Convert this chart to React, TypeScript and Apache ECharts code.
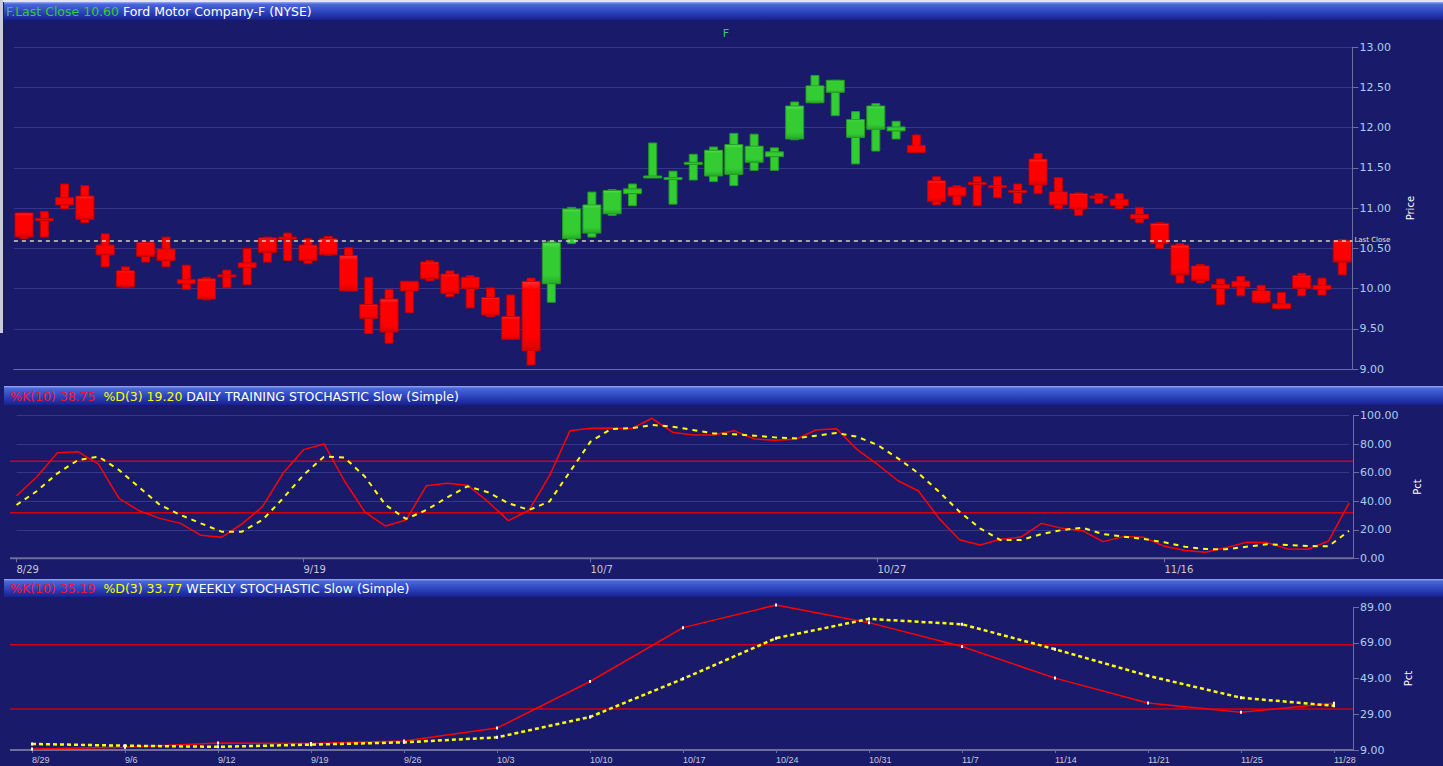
import React, { useEffect, useRef } from "react";
import * as echarts from "echarts";

// ---------- DATA ----------
const dailyDates = [
  "8/29", "8/30", "8/31", "9/1", "9/2", "9/6", "9/7", "9/8", "9/9", "9/12",
  "9/13", "9/14", "9/15", "9/16", "9/19", "9/20", "9/21", "9/22", "9/23", "9/26",
  "9/27", "9/28", "9/29", "9/30", "10/3", "10/4", "10/5", "10/6", "10/7", "10/10",
  "10/11", "10/12", "10/13", "10/14", "10/17", "10/18", "10/19", "10/20", "10/21", "10/24",
  "10/25", "10/26", "10/27", "10/28", "10/31", "11/1", "11/2", "11/3", "11/4", "11/7",
  "11/8", "11/9", "11/10", "11/11", "11/14", "11/15", "11/16", "11/17", "11/18", "11/21",
  "11/22", "11/23", "11/25", "11/28", "11/29", "11/30",
];
const dailyLabelDates = ["8/29", "9/19", "10/7", "10/27", "11/16"];

const bodyTop = [
  10.94, 10.87, 11.13, 11.15, 10.54, 10.22, 10.57, 10.49, 10.11, 10.12,
  10.17, 10.32, 10.63, 10.64, 10.54, 10.62, 10.41, 9.8, 9.87, 10.09,
  10.33, 10.18, 10.14, 9.89, 9.65, 10.09, 10.57, 10.99, 11.04, 11.22,
  11.24, 11.4, 11.38, 11.57, 11.72, 11.79, 11.77, 11.7, 12.27, 12.52,
  12.59, 12.1, 12.27, 12.01, 11.78, 11.34, 11.26, 11.32, 11.28, 11.22,
  11.61, 11.2, 11.18, 11.15, 11.11, 10.92, 10.81, 10.54, 10.28, 10.05,
  10.09, 9.97, 9.81, 10.16, 10.04, 10.6,
];
const bodyBottom = [
  10.64, 10.87, 11.04, 10.86, 10.42, 10.02, 10.4, 10.35, 10.06, 9.87,
  10.17, 10.26, 10.45, 10.64, 10.35, 10.42, 9.97, 9.63, 9.46, 9.97,
  10.12, 9.94, 10.0, 9.67, 9.37, 9.23, 10.06, 10.62, 10.69, 10.93,
  11.18, 11.4, 11.36, 11.57, 11.4, 11.42, 11.57, 11.64, 11.86, 12.31,
  12.44, 11.88, 11.98, 11.96, 11.69, 11.08, 11.15, 11.32, 11.28, 11.22,
  11.29, 11.04, 10.99, 11.15, 11.03, 10.87, 10.56, 10.17, 10.1, 10.0,
  10.02, 9.83, 9.75, 10.0, 9.99, 10.33,
];
const highs = [
  10.94, 10.96, 11.3, 11.28, 10.68, 10.27, 10.58, 10.64, 10.29, 10.14,
  10.23, 10.5, 10.64, 10.69, 10.62, 10.65, 10.51, 10.14, 9.99, 10.09,
  10.35, 10.22, 10.16, 10.01, 9.92, 10.13, 10.59, 11.01, 11.2, 11.23,
  11.3, 11.81, 11.46, 11.67, 11.76, 11.93, 11.92, 11.75, 12.32, 12.65,
  12.59, 12.2, 12.3, 12.08, 11.91, 11.39, 11.28, 11.39, 11.39, 11.3,
  11.68, 11.38, 11.19, 11.18, 11.18, 11.01, 10.82, 10.56, 10.3, 10.12,
  10.15, 10.04, 9.95, 10.19, 10.13, 10.61,
];
const lows = [
  10.62, 10.64, 10.99, 10.82, 10.27, 10.01, 10.33, 10.27, 9.99, 9.86,
  10.01, 10.05, 10.33, 10.35, 10.31, 10.41, 9.97, 9.44, 9.32, 9.7,
  10.1, 9.9, 9.76, 9.65, 9.37, 9.05, 9.83, 10.56, 10.64, 10.91,
  11.03, 11.38, 11.05, 11.35, 11.33, 11.28, 11.47, 11.47, 11.85, 12.31,
  12.15, 11.55, 11.71, 11.86, 11.69, 11.04, 11.04, 11.03, 11.13, 11.06,
  11.18, 10.99, 10.91, 11.06, 10.99, 10.82, 10.5, 10.07, 10.07, 9.8,
  9.91, 9.83, 9.75, 9.91, 9.92, 10.17,
];
// trend paint: G = green bar, R = red bar
const barTrend = [
  "R", "R", "R", "R", "R", "R", "R", "R", "R", "R",
  "R", "R", "R", "R", "R", "R", "R", "R", "R", "R",
  "R", "R", "R", "R", "R", "R", "G", "G", "G", "G",
  "G", "G", "G", "G", "G", "G", "G", "G", "G", "G",
  "G", "G", "G", "G", "R", "R", "R", "R", "R", "R",
  "R", "R", "R", "R", "R", "R", "R", "R", "R", "R",
  "R", "R", "R", "R", "R", "R",
];
const lastClose = 10.6;

const dailyK = [
  43.9, 57.2, 74.1, 74.8, 66.1, 42.1, 33.2, 28.0, 24.5, 16.1,
  14.7, 24.1, 36.2, 59.6, 76.2, 80.2, 54.2, 32.3, 22.6, 26.9,
  50.9, 52.6, 51.2, 39.7, 26.4, 33.7, 57.9, 89.5, 91.2, 91.4,
  90.9, 98.2, 88.4, 86.5, 86.5, 89.5, 83.7, 82.7, 83.4, 90.0,
  90.9, 76.4, 65.9, 54.4, 47.2, 28.0, 13.0, 9.3, 13.3, 14.9,
  24.5, 21.0, 19.4, 11.7, 15.2, 14.7, 8.4, 5.4, 4.2, 7.5,
  11.2, 11.0, 6.5, 6.3, 12.1, 38.75,
];
const dailyD = [
  37.4, 47.2, 59.6, 68.9, 71.3, 61.9, 49.5, 37.4, 30.4, 24.5,
  18.7, 18.7, 26.9, 42.1, 58.4, 71.3, 70.6, 57.2, 37.4, 27.6,
  33.9, 42.6, 50.5, 46.3, 38.6, 33.9, 39.8, 60.8, 81.8, 90.7,
  91.2, 93.5, 92.3, 90.0, 87.6, 87.0, 86.0, 84.8, 84.1, 86.0,
  87.9, 85.3, 79.5, 70.1, 59.6, 46.7, 32.7, 21.0, 12.8, 12.8,
  17.0, 19.8, 21.5, 17.0, 15.2, 13.5, 11.2, 8.1, 6.5, 6.3,
  8.1, 9.8, 9.3, 8.6, 8.4, 19.2,
];

const weeklyDates = [
  "8/29", "9/6", "9/12", "9/19", "9/26", "10/3", "10/10", "10/17",
  "10/24", "10/31", "11/7", "11/14", "11/21", "11/25", "11/28",
];
const weeklyK = [9.6, 10.5, 12.9, 12.7, 14.0, 21.3, 47.4, 77.6, 90.3, 80.4, 67.0, 49.3, 35.3, 30.1, 35.19];
const weeklyD = [12.4, 11.4, 10.8, 12.0, 13.3, 16.1, 27.5, 48.9, 71.7, 82.5, 79.5, 65.5, 50.6, 38.3, 33.77];

const stochBands = [68, 32];
const weeklyBase = 9; // weekly axis runs 9 .. 89

// ---------- STYLE ----------
const BG = "#1A1A6B";
const GRIDLINE = "#36368A";
const AXIS = "#6E6E9E";
const YLABEL = "#A8D0EA";
const XLABEL = "#C8C8D8";
const RED = "#FF0000";
const RED_EDGE = "#C40000";
const GREEN = "#33CC33";
const GREEN_EDGE = "#229A22";
const BAND = "#D00010";
const FONT = "DejaVu Sans";
const HEAD_FONT = "12.5px " + FONT;
const PANEL_LEFT = 10;
const PANEL_RIGHT = 1353;

function headerBar(y: number, h: number) {
  return {
    type: "rect",
    shape: { x: 4, y, width: 1439, height: h },
    style: {
      fill: new echarts.graphic.LinearGradient(0, 0, 0, 1, [
        { offset: 0, color: "#9AAEF4" },
        { offset: 0.12, color: "#4A68DA" },
        { offset: 0.55, color: "#2C44BC" },
        { offset: 1, color: "#172092" },
      ]),
    },
    silent: true,
  };
}

function bodyFill(up: boolean) {
  return up
    ? new echarts.graphic.LinearGradient(0, 0, 0, 1, [
        { offset: 0, color: "#55E055" },
        { offset: 0.12, color: "#33CC33" },
        { offset: 0.8, color: "#33CC33" },
        { offset: 1, color: "#26AA26" },
      ])
    : new echarts.graphic.LinearGradient(0, 0, 0, 1, [
        { offset: 0, color: "#FF3030" },
        { offset: 0.12, color: "#FF0000" },
        { offset: 0.8, color: "#FF0000" },
        { offset: 1, color: "#D80000" },
      ]);
}

export default function App() {
  const ref = useRef<HTMLDivElement>(null);

  useEffect(() => {
    if (!ref.current) return;
    const chart = echarts.init(ref.current, null, { renderer: "svg" });

    const candleData = bodyTop.map((t, i) => [
      i, t, bodyBottom[i], highs[i], lows[i], barTrend[i] === "G" ? 1 : 0,
    ]);

    const yLabel = {
      color: YLABEL,
      fontSize: 11,
      fontFamily: FONT,
      margin: 7,
    };

    const baseGraphic: any[] = [
      { type: "rect", shape: { x: 0, y: 0, width: 1443, height: 2 }, style: { fill: "#E4E6EE" }, silent: true },
      { type: "rect", shape: { x: 0, y: 0, width: 3, height: 333 }, style: { fill: "#C8CCD8" }, silent: true },
      headerBar(2, 18),
      headerBar(386, 19),
      headerBar(579, 18),
      {
        type: "text",
        x: 6,
        y: 11,
        style: {
          text: "{g|F.Last Close " + lastClose.toFixed(2) + "} Ford Motor Company-F (NYSE)",
          fill: "#FFFFFF",
          font: HEAD_FONT,
          verticalAlign: "middle",
          rich: { g: { fill: "#33CC33", font: HEAD_FONT } },
        },
        silent: true,
      },
      {
        type: "text",
        x: 10,
        y: 396,
        style: {
          text:
            "{k|%K(10) " + dailyK[dailyK.length - 1].toFixed(2) + "}  {d|%D(3) " +
            dailyD[dailyD.length - 1].toFixed(2) + "} DAILY TRAINING STOCHASTIC Slow (Simple)",
          fill: "#FFFFFF",
          font: HEAD_FONT,
          verticalAlign: "middle",
          rich: {
            k: { fill: "#FF1030", font: HEAD_FONT },
            d: { fill: "#FFFF00", font: HEAD_FONT },
          },
        },
        silent: true,
      },
      {
        type: "text",
        x: 10,
        y: 588,
        style: {
          text:
            "{k|%K(10) " + weeklyK[weeklyK.length - 1].toFixed(2) + "}  {d|%D(3) " +
            weeklyD[weeklyD.length - 1].toFixed(2) + "} WEEKLY STOCHASTIC Slow (Simple)",
          fill: "#FFFFFF",
          font: HEAD_FONT,
          verticalAlign: "middle",
          rich: {
            k: { fill: "#FF1030", font: HEAD_FONT },
            d: { fill: "#FFFF00", font: HEAD_FONT },
          },
        },
        silent: true,
      },
      {
        type: "text",
        x: 726,
        y: 33,
        style: {
          text: "F",
          fill: "#33CC66",
          font: "11px " + FONT,
          align: "center",
          verticalAlign: "middle",
        },
        silent: true,
      },
    ];

    const option: any = {
      animation: false,
      backgroundColor: BG,
      grid: [
        { left: 13.9, top: 47.3, width: 1338.5, height: 321.7 },
        { left: 16.5, top: 415.7, width: 1332.5, height: 142.6 },
        { left: 32, top: 607.3, width: 1302, height: 142.7 },
      ],
      xAxis: [
        {
          gridIndex: 0,
          type: "category",
          data: dailyDates,
          boundaryGap: true,
          axisLine: { lineStyle: { color: AXIS, width: 1 } },
          axisTick: { show: false },
          axisLabel: { show: false },
          splitLine: { show: false },
        },
        {
          gridIndex: 1,
          type: "category",
          data: dailyDates,
          boundaryGap: false,
          axisLine: { show: false },
          axisTick: {
            show: true,
            length: 4,
            lineStyle: { color: AXIS },
            interval: (_i: number, v: string) => dailyLabelDates.includes(v),
          },
          axisLabel: {
            color: XLABEL,
            fontSize: 10,
            fontFamily: FONT,
            align: "left",
            margin: 6,
            interval: (_i: number, v: string) => dailyLabelDates.includes(v),
          },
          splitLine: { show: false },
        },
        {
          gridIndex: 2,
          type: "category",
          data: weeklyDates,
          boundaryGap: false,
          axisLine: { show: false },
          axisTick: { show: true, length: 3, interval: 0, lineStyle: { color: AXIS } },
          axisLabel: {
            color: XLABEL,
            fontSize: 9,
            fontFamily: "Liberation Sans",
            align: "left",
            margin: 5,
            interval: 0,
          },
          splitLine: { show: false },
        },
      ],
      yAxis: [
        {
          gridIndex: 0,
          type: "value",
          position: "right",
          min: 9,
          max: 13,
          interval: 0.5,
          axisLine: { show: true, lineStyle: { color: AXIS } },
          axisTick: { show: true, length: 6, lineStyle: { color: AXIS } },
          axisLabel: { ...yLabel, formatter: (v: number) => v.toFixed(2) },
          splitLine: { show: true, lineStyle: { color: GRIDLINE } },
          name: "Price",
          nameLocation: "middle",
          nameGap: 53,
          nameRotate: 90,
          nameTextStyle: { color: "#FFFFFF", fontSize: 10, fontFamily: FONT },
        },
        {
          gridIndex: 1,
          type: "value",
          position: "right",
          offset: 4,
          min: 0,
          max: 100,
          interval: 20,
          axisLine: { show: true, lineStyle: { color: AXIS } },
          axisTick: { show: true, length: 6, lineStyle: { color: AXIS } },
          axisLabel: { ...yLabel, formatter: (v: number) => v.toFixed(2) },
          splitLine: { show: true, lineStyle: { color: GRIDLINE } },
          name: "Pct",
          nameLocation: "middle",
          nameGap: 59,
          nameRotate: 90,
          nameTextStyle: { color: "#FFFFFF", fontSize: 10, fontFamily: FONT },
        },
        {
          gridIndex: 2,
          type: "value",
          position: "right",
          offset: 19,
          min: 0,
          max: 80,
          interval: 20,
          axisLine: { show: true, lineStyle: { color: AXIS } },
          axisTick: { show: true, length: 6, lineStyle: { color: AXIS } },
          axisLabel: { ...yLabel, formatter: (v: number) => (v + weeklyBase).toFixed(2) },
          splitLine: { show: false },
          name: "Pct",
          nameLocation: "middle",
          nameGap: 50,
          nameRotate: 90,
          nameTextStyle: { color: "#FFFFFF", fontSize: 10, fontFamily: FONT },
        },
      ],
      series: [
        {
          type: "custom",
          name: "F",
          xAxisIndex: 0,
          yAxisIndex: 0,
          data: candleData,
          encode: { x: 0, y: [1, 2, 3, 4] },
          renderItem: (_params: any, api: any) => {
            const idx = api.value(0);
            const pTop = api.coord([idx, api.value(1)]);
            const pBot = api.coord([idx, api.value(2)]);
            const pHigh = api.coord([idx, api.value(3)]);
            const pLow = api.coord([idx, api.value(4)]);
            const up = api.value(5) === 1;
            const fill = up ? GREEN : RED;
            const stroke = up ? GREEN_EDGE : RED_EDGE;
            const x = pTop[0];
            const bw = 18;
            const ww = 8;
            const bodyH = Math.max(2, pBot[1] - pTop[1]);
            return {
              type: "group",
              children: [
                {
                  type: "rect",
                  shape: { x: x - ww / 2, y: pHigh[1], width: ww, height: pLow[1] - pHigh[1] },
                  style: { fill, stroke, lineWidth: 1 },
                },
                {
                  type: "rect",
                  shape: { x: x - bw / 2, y: pTop[1], width: bw, height: bodyH },
                  style: { fill: bodyH > 4 ? bodyFill(up) : fill, stroke, lineWidth: 1 },
                },
              ],
            };
          },
          z: 3,
        },
        {
          type: "line",
          xAxisIndex: 0,
          yAxisIndex: 0,
          data: [],
          markLine: {
            silent: true,
            symbol: "none",
            lineStyle: { color: "#D8D6BC", type: [4, 4], width: 1.5 },
            label: {
              show: true,
              position: "end",
              formatter: "Last Close",
              color: "#F2E6B0",
              fontSize: 7,
              fontFamily: FONT,
              distance: 2,
            },
            data: [{ yAxis: lastClose }],
          },
          z: 2,
        },
        {
          type: "line",
          name: "%K daily",
          xAxisIndex: 1,
          yAxisIndex: 1,
          data: dailyK,
          showSymbol: false,
          lineStyle: { color: RED, width: 1.5 },
          z: 3,
        },
        {
          type: "line",
          name: "%D daily",
          xAxisIndex: 1,
          yAxisIndex: 1,
          data: dailyD,
          showSymbol: false,
          lineStyle: { color: "#FFFF00", width: 2, type: [5, 5] },
          z: 4,
        },
        {
          type: "line",
          name: "%K weekly",
          xAxisIndex: 2,
          yAxisIndex: 2,
          data: weeklyK.map((v) => v - weeklyBase),
          clip: false,
          symbol: "rect",
          symbolSize: [2, 3],
          itemStyle: { color: "#FFFFFF" },
          lineStyle: { color: RED, width: 1.5 },
          z: 3,
        },
        {
          type: "line",
          name: "%D weekly",
          xAxisIndex: 2,
          yAxisIndex: 2,
          data: weeklyD.map((v) => v - weeklyBase),
          clip: false,
          symbol: "rect",
          symbolSize: [2, 3],
          itemStyle: { color: "#FFFFFF" },
          lineStyle: { color: "#FFFF00", width: 2.5, type: [4, 3] },
          z: 4,
        },
      ],
      graphic: baseGraphic,
    };

    chart.setOption(option);

    // full-width band lines and bottom axis lines, placed through the axes' own scales
    const extra: any[] = [];
    stochBands.forEach((b) => {
      const yd = chart.convertToPixel({ yAxisIndex: 1 } as any, b) as number;
      const yw = chart.convertToPixel({ yAxisIndex: 2 } as any, b - weeklyBase) as number;
      [yd, yw].forEach((y) => {
        extra.push({
          type: "line",
          shape: { x1: PANEL_LEFT, y1: y, x2: PANEL_RIGHT, y2: y },
          style: { stroke: BAND, lineWidth: 1.5 },
          silent: true,
          z: 1,
        });
      });
    });
    const yd0 = chart.convertToPixel({ yAxisIndex: 1 } as any, 0) as number;
    const yw0 = chart.convertToPixel({ yAxisIndex: 2 } as any, 0) as number;
    [yd0, yw0].forEach((y) => {
      extra.push({
        type: "line",
        shape: { x1: PANEL_LEFT, y1: y, x2: PANEL_RIGHT, y2: y },
        style: { stroke: AXIS, lineWidth: 2 },
        silent: true,
        z: 1,
      });
    });
    chart.setOption({ graphic: [...baseGraphic, ...extra] });

    return () => chart.dispose();
  }, []);

  return (
    <div
      ref={ref}
      style={{
        position: "absolute",
        left: 0,
        top: 0,
        width: 1443,
        height: 766,
        background: BG,
      }}
    />
  );
}
